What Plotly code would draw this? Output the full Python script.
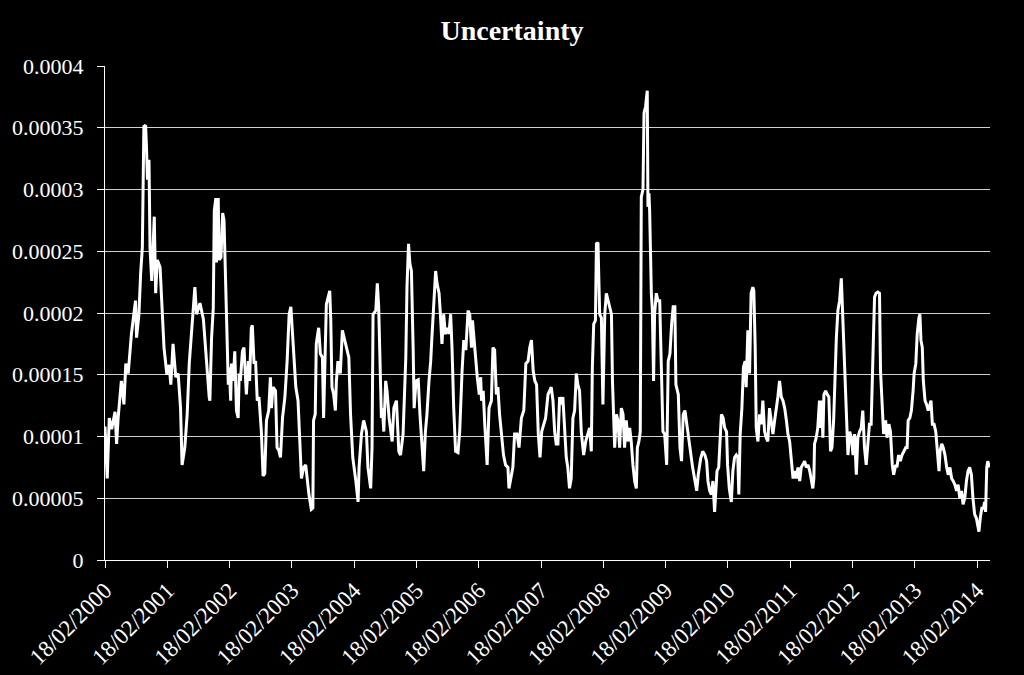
import plotly.graph_objects as go

# Weekly uncertainty measure (units of 1e-5)
dates = [
    "2000-02-18","2000-03-02","2000-03-14","2000-03-28","2000-04-17","2000-04-26","2000-05-05","2000-05-24",
    "2000-06-08","2000-06-19","2000-07-03","2000-07-22","2000-08-05","2000-08-15","2000-08-21","2000-09-04",
    "2000-09-14","2000-09-24","2000-10-03","2000-10-13","2000-10-18","2000-10-24","2000-11-02","2000-11-08",
    "2000-11-18","2000-12-03","2000-12-11","2000-12-21","2001-01-06","2001-01-19","2001-01-29","2001-02-15",
    "2001-02-28","2001-03-10","2001-03-23","2001-04-08","2001-04-22","2001-05-06","2001-05-15","2001-05-31",
    "2001-06-14","2001-06-26","2001-07-06","2001-07-29","2001-08-08","2001-08-28","2001-09-17","2001-10-02",
    "2001-10-21",
    "2001-10-25","2001-11-04","2001-11-14","2001-11-20","2001-11-29","2001-12-03","2001-12-13","2001-12-18",
    "2001-12-29","2002-01-08","2002-01-16","2002-01-21","2002-01-27","2002-02-10","2002-02-16","2002-02-24",
    "2002-03-01","2002-03-11","2002-03-20","2002-03-30","2002-04-09","2002-04-15","2002-04-22","2002-05-04",
    "2002-05-13","2002-05-27","2002-06-08","2002-06-15","2002-06-25","2002-07-01","2002-07-11","2002-07-20",
    "2002-07-30","2002-08-09","2002-08-23","2002-09-02","2002-09-12","2002-09-22","2002-10-05","2002-10-15",
    "2002-10-21","2002-10-30","2002-11-14","2002-11-23","2002-12-03","2002-12-13","2002-12-25","2003-01-08",
    "2003-01-21","2003-02-02","2003-02-12","2003-02-26","2003-03-13","2003-03-26","2003-04-05","2003-04-15",
    "2003-04-28","2003-05-10","2003-05-17","2003-05-29",
    "2003-06-12","2003-06-21","2003-06-25","2003-07-05","2003-07-11","2003-07-25","2003-08-04","2003-08-16",
    "2003-08-23","2003-08-31","2003-09-08","2003-09-28","2003-10-04","2003-10-11","2003-10-21","2003-10-31",
    "2003-11-06","2003-11-15","2003-11-29","2003-12-11","2003-12-24","2004-01-09","2004-01-18","2004-01-28",
    "2004-02-01","2004-02-10","2004-02-28","2004-03-12","2004-03-18","2004-04-01","2004-04-14","2004-04-30",
    "2004-05-09","2004-05-25","2004-06-02","2004-06-08","2004-06-24","2004-07-03","2004-07-11","2004-07-21",
    "2004-07-27","2004-08-02","2004-08-10","2004-08-21","2004-08-29","2004-09-10","2004-09-28","2004-10-08",
    "2004-10-23","2004-11-06","2004-11-16","2004-12-01","2004-12-17","2004-12-24","2005-01-02","2005-01-10",
    "2005-01-19","2005-01-29","2005-02-04","2005-02-15","2005-02-28","2005-03-10","2005-03-18","2005-04-01",
    "2005-04-11","2005-04-20","2005-05-02","2005-05-12","2005-05-19","2005-05-31","2005-06-10","2005-06-18",
    "2005-06-30","2005-07-08","2005-07-17","2005-07-27","2005-08-06","2005-08-18","2005-08-27","2005-09-06",
    "2005-09-14","2005-09-24","2005-10-05","2005-10-19","2005-10-29","2005-11-12","2005-11-22","2005-12-04",
    "2005-12-17","2005-12-27","2006-01-06","2006-01-12","2006-01-26","2006-02-09","2006-02-21","2006-03-01",
    "2006-03-06","2006-03-16","2006-03-25","2006-04-08","2006-04-19","2006-05-03","2006-05-12","2006-05-22",
    "2006-06-01","2006-06-10","2006-06-20","2006-07-03","2006-07-13","2006-07-25","2006-08-08","2006-08-14",
    "2006-08-28","2006-09-06","2006-09-16","2006-09-30","2006-10-12","2006-10-26","2006-11-09","2006-11-21",
    "2006-12-04","2006-12-14","2006-12-24","2007-01-03","2007-01-13","2007-01-23","2007-02-02","2007-02-12",
    "2007-02-22","2007-03-01","2007-03-17","2007-03-31","2007-04-10","2007-04-19","2007-04-29","2007-05-09",
    "2007-05-18","2007-05-28","2007-06-07","2007-06-17","2007-06-26","2007-07-06","2007-07-16","2007-07-25",
    "2007-08-04","2007-08-14","2007-08-24","2007-09-03","2007-09-13","2007-09-22","2007-10-02","2007-10-12",
    "2007-10-26","2007-11-07","2007-11-20","2007-11-30","2007-12-10","2007-12-16","2007-12-24","2008-01-03",
    "2008-01-09","2008-01-18","2008-01-28","2008-02-07","2008-02-16",
    "2008-02-27","2008-03-07","2008-03-17","2008-03-27","2008-04-06","2008-04-12","2008-04-19","2008-04-25",
    "2008-05-05","2008-05-14","2008-05-24","2008-06-03","2008-06-13","2008-06-22","2008-07-02","2008-07-12",
    "2008-07-22","2008-07-31","2008-08-10","2008-08-20","2008-08-30","2008-09-05","2008-09-14","2008-09-22",
    "2008-09-28","2008-10-08","2008-10-14","2008-10-23","2008-11-02","2008-11-06","2008-11-12","2008-11-16",
    "2008-11-26","2008-12-02","2008-12-09","2008-12-15","2008-12-25","2009-01-04","2009-01-14","2009-01-24",
    "2009-02-02","2009-02-12","2009-02-24","2009-03-05","2009-03-15","2009-03-25","2009-04-03","2009-04-13",
    "2009-04-19","2009-05-03","2009-05-13","2009-05-22","2009-06-01","2009-06-11","2009-06-21","2009-06-30",
    "2009-07-10","2009-07-26","2009-08-09","2009-08-19","2009-08-28","2009-09-11","2009-09-23","2009-10-06",
    "2009-10-16",
    "2009-10-24","2009-11-03","2009-11-13","2009-11-22","2009-12-02","2009-12-08","2009-12-16","2009-12-26",
    "2010-01-05","2010-01-11","2010-01-21","2010-01-30","2010-02-10","2010-02-16","2010-02-26","2010-03-10",
    "2010-03-19","2010-03-29","2010-04-08","2010-04-17","2010-04-23","2010-05-01","2010-05-11","2010-05-20",
    "2010-05-30","2010-06-05","2010-06-15","2010-06-25","2010-07-04","2010-07-14","2010-07-20","2010-07-28",
    "2010-08-03","2010-08-13","2010-08-23","2010-09-02","2010-09-11","2010-09-21","2010-10-01","2010-10-10",
    "2010-10-20","2010-10-30","2010-11-09","2010-11-19","2010-11-28","2010-12-08","2010-12-18","2010-12-28",
    "2011-01-07","2011-01-17","2011-01-27","2011-02-05","2011-02-15","2011-02-26","2011-03-07","2011-03-17",
    "2011-03-26","2011-04-05","2011-04-15","2011-04-24","2011-05-04","2011-05-14","2011-05-24","2011-06-03",
    "2011-06-13",
    "2011-06-21","2011-07-01","2011-07-07","2011-07-11","2011-07-21","2011-07-30","2011-08-09","2011-08-15",
    "2011-08-21","2011-08-29","2011-09-04","2011-09-14","2011-09-24","2011-10-03","2011-10-13","2011-10-21",
    "2011-10-31","2011-11-06","2011-11-16","2011-11-25","2011-12-05","2011-12-15","2011-12-21","2011-12-29",
    "2012-01-04","2012-01-14","2012-01-23","2012-02-02","2012-02-12","2012-02-22","2012-03-02","2012-03-12",
    "2012-03-21","2012-03-31","2012-04-10","2012-04-19","2012-04-29","2012-05-09","2012-05-18","2012-05-28",
    "2012-06-07","2012-06-13","2012-06-21","2012-06-27","2012-07-06","2012-07-16","2012-07-26","2012-08-01",
    "2012-08-11","2012-08-19","2012-08-31","2012-09-08","2012-09-19","2012-09-28","2012-10-09","2012-10-17",
    "2012-10-29","2012-11-05","2012-11-15","2012-11-25","2012-12-05","2012-12-15","2012-12-27","2013-01-04",
    "2013-01-10","2013-01-20",
    "2013-01-29","2013-02-08","2013-02-14","2013-02-24","2013-03-04","2013-03-14","2013-03-20","2013-03-26",
    "2013-04-03","2013-04-09","2013-04-19","2013-04-28","2013-05-08","2013-05-18","2013-05-24","2013-06-01",
    "2013-06-11","2013-06-21","2013-06-26","2013-07-02","2013-07-10","2013-07-16","2013-07-26","2013-08-04",
    "2013-08-14","2013-08-24","2013-09-02","2013-09-12","2013-09-22","2013-10-01","2013-10-11","2013-10-21",
    "2013-10-30","2013-11-09","2013-11-19","2013-11-28","2013-12-08","2013-12-18","2013-12-27","2014-01-06",
    "2014-01-16","2014-01-25","2014-02-04","2014-02-14","2014-02-24","2014-03-01","2014-03-09","2014-03-18",
    "2014-03-28","2014-04-03","2014-04-09","2014-04-16","2014-04-22","2014-05-02",
]

values_e5 = [
    10.8, 6.6, 11.5, 10.6, 12.0, 9.4, 11.5, 14.5,
    12.6, 15.9, 15.1, 18.3, 19.9, 21.0, 18.0, 19.9,
    23.2, 25.3, 35.1, 35.2, 33.5, 30.8, 32.4, 25.3,
    22.6, 27.8, 21.6, 24.3, 23.7, 19.9, 17.2, 15.0,
    15.8, 14.2, 17.5, 14.8, 15.1, 12.3, 7.7, 9.1,
    11.8, 15.9, 17.8, 22.1, 19.9, 20.8, 19.5, 16.4,
    13.2,
    12.9, 18.0, 20.4, 28.3, 29.3, 24.1, 29.3, 24.3,
    24.5, 28.1, 27.5, 24.8, 21.0, 14.2, 15.6, 12.9,
    15.9, 14.5, 16.9, 12.1, 11.5, 15.1, 14.5, 16.9,
    17.2, 13.4, 16.1, 14.5, 18.8, 19.0, 15.9, 16.1,
    12.9, 13.2, 10.4, 6.8, 7.0, 11.3, 12.1, 14.8,
    12.3, 14.0, 13.7, 9.1, 8.9, 8.3, 11.5, 13.2,
    16.1, 19.9, 20.5, 17.2, 14.0, 12.9, 9.9, 6.6,
    7.5, 7.7, 6.8, 5.3,
    4.1, 4.2, 11.3, 11.8, 17.5, 18.8, 16.7, 16.4,
    11.5, 15.6, 20.7, 21.8, 19.4, 14.0, 13.4, 12.1,
    14.5, 16.1, 15.1, 18.6, 17.8, 17.0, 16.4, 11.8,
    10.2, 8.3, 6.4, 4.7, 7.5, 10.2, 11.3, 10.4,
    7.5, 5.8, 9.1, 19.9, 20.2, 22.4, 20.5, 12.9,
    11.5, 12.3, 10.4, 14.5, 13.7, 11.5, 9.6, 12.3,
    12.9, 8.8, 8.5, 10.2, 16.4, 22.1, 25.6, 24.0,
    23.4, 17.2, 12.3, 14.5, 14.6, 11.8, 10.4, 7.2,
    10.4, 11.8, 14.5, 16.1, 18.0, 21.6, 23.4, 22.4,
    21.6, 19.9, 17.5, 19.9, 18.3, 18.8, 18.3, 19.9,
    17.2, 12.3, 8.8, 8.7, 10.4, 15.3, 17.8, 17.0,
    20.2, 19.9, 17.2, 19.4, 16.7, 14.8, 13.4, 14.8,
    12.9, 13.7, 11.0, 7.7, 12.3, 12.9, 17.2, 17.0,
    13.4, 14.0, 11.8, 10.2, 8.5, 7.7, 7.5, 5.8,
    6.9, 7.5, 10.2, 10.2, 9.1, 11.5, 12.1, 15.9,
    16.1, 17.2, 17.8, 15.3, 14.5, 14.2, 10.2, 8.3,
    10.4, 10.7, 11.5, 13.4, 13.7, 14.0, 12.9, 10.4,
    9.4, 9.4, 13.2, 12.6, 13.2, 10.7, 8.3, 7.5,
    5.8, 6.6, 11.5, 12.1, 15.1, 14.2, 13.7, 10.4,
    8.5, 9.6, 10.2, 10.7, 8.8, 15.6, 19.1, 19.4,
    25.6, 25.7, 19.9, 19.6, 12.6,
    19.9, 21.6, 21.0, 20.5, 19.9, 14.5, 10.4, 9.1,
    11.8, 11.3, 9.1, 12.3, 11.8, 9.1, 11.3, 9.6,
    10.7, 9.6, 7.7, 6.4, 5.8, 9.1, 9.6, 10.4,
    29.4, 30.0, 36.2, 36.7, 38.0, 28.6, 29.7, 28.3,
    21.6, 20.2, 14.5, 19.9, 21.6, 21.0, 21.0, 15.3,
    10.4, 10.2, 7.7, 16.1, 16.7, 19.1, 20.5, 20.5,
    14.2, 13.4, 9.1, 8.0, 11.8, 12.1, 11.0, 10.2,
    9.1, 7.5, 6.4, 5.6, 6.9, 8.2, 8.8, 8.5,
    8.0,
    6.4, 5.6, 5.3, 6.4, 3.9, 5.3, 7.2, 7.5,
    10.4, 11.8, 11.5, 10.7, 10.4, 7.7, 5.8, 4.7,
    7.2, 8.3, 8.5, 8.3, 5.3, 10.2, 12.3, 15.6,
    16.1, 14.0, 18.6, 15.1, 21.6, 22.1, 21.8, 17.2,
    10.7, 9.6, 11.8, 11.0, 12.9, 10.4, 9.9, 9.6,
    12.3, 11.3, 10.2, 11.3, 12.1, 13.2, 14.5, 13.2,
    12.9, 12.3, 11.3, 10.2, 9.6, 7.7, 6.6, 7.2,
    6.6, 7.5, 6.4, 7.5, 7.7, 8.0, 7.5, 7.7,
    7.2,
    6.4, 5.8, 6.6, 9.4, 9.9, 10.7, 12.9, 10.7,
    12.9, 9.9, 13.4, 13.7, 13.4, 13.2, 8.8, 9.1,
    11.3, 14.2, 18.0, 20.2, 21.0, 22.8, 20.5, 18.8,
    15.1, 12.1, 8.5, 10.4, 9.9, 8.5, 10.2, 6.9,
    9.9, 10.4, 10.7, 12.1, 9.1, 7.7, 9.4, 11.0,
    11.0, 15.1, 18.3, 21.3, 21.6, 21.7, 21.6, 15.3,
    11.8, 10.2, 11.3, 9.9, 11.0, 10.4, 7.7, 6.9,
    7.7, 7.5, 8.5, 8.0, 8.5, 8.8, 9.1, 9.1,
    11.3, 11.5,
    12.1, 13.7, 15.1, 15.9, 18.3, 19.6, 19.9, 17.8,
    17.2, 14.5, 12.9, 12.6, 12.1, 12.6, 12.9, 11.0,
    11.0, 10.4, 9.6, 8.8, 7.2, 8.8, 9.4, 9.1,
    8.5, 7.5, 6.9, 7.5, 6.6, 6.4, 6.1, 5.6,
    6.1, 5.0, 5.6, 4.5, 5.0, 6.4, 7.2, 7.5,
    6.9, 5.0, 3.7, 3.4, 2.6, 2.3, 3.4, 4.2,
    4.2, 4.7, 3.9, 7.5, 8.0, 7.5,
]

values = [v * 1e-5 for v in values_e5]

x_tick_dates = [f"{y}-02-18" for y in range(2000, 2015)]
x_tick_labels = [f"18/02/{y}" for y in range(2000, 2015)]
y_tick_vals = [0, 0.00005, 0.0001, 0.00015, 0.0002, 0.00025, 0.0003, 0.00035, 0.0004]
y_tick_labels = ["0", "0.00005", "0.0001", "0.00015", "0.0002", "0.00025", "0.0003", "0.00035", "0.0004"]

FONT = "Liberation Serif"

fig = go.Figure()
fig.add_trace(go.Scatter(
    x=dates, y=values, mode="lines",
    line=dict(color="white", width=3),
    name="Uncertainty", showlegend=False,
))

fig.update_layout(
    width=1024, height=675,
    paper_bgcolor="black", plot_bgcolor="black",
    margin=dict(l=105, r=34, t=66, b=115, autoexpand=False),
    title=dict(text="<b>Uncertainty</b>", x=0.5, xref="container", y=1 - 30 / 675, yref="container",
               xanchor="center", yanchor="middle", automargin=False,
               font=dict(family=FONT, size=28, color="white")),
    font=dict(family=FONT, color="white"),
)

fig.update_xaxes(
    type="date", automargin=False,
    range=["2000-02-18", "2014-05-05"],
    tickmode="array", tickvals=x_tick_dates, ticktext=x_tick_labels,
    tickangle=-45, tickfont=dict(family=FONT, size=23, color="white"),
    ticks="outside", ticklen=7, tickcolor="white", tickwidth=1,
    showgrid=False, showline=True, linecolor="white", linewidth=1,
    zeroline=False,
)
fig.update_yaxes(
    range=[0, 0.0004], automargin=False,
    tickmode="array", tickvals=y_tick_vals, ticktext=y_tick_labels,
    tickfont=dict(family=FONT, size=22, color="white"),
    ticks="outside", ticklen=7, tickcolor="white", tickwidth=1,
    showgrid=True, gridcolor="#d0d0d0", gridwidth=1,
    showline=True, linecolor="white", linewidth=1,
    zeroline=False, ticklabelstandoff=9,
)

fig.write_html(
    "out.html",
    config={"displayModeBar": False},
    post_script="document.body.style.margin='0';document.body.style.background='black';"
                "document.documentElement.style.background='black';",
)
